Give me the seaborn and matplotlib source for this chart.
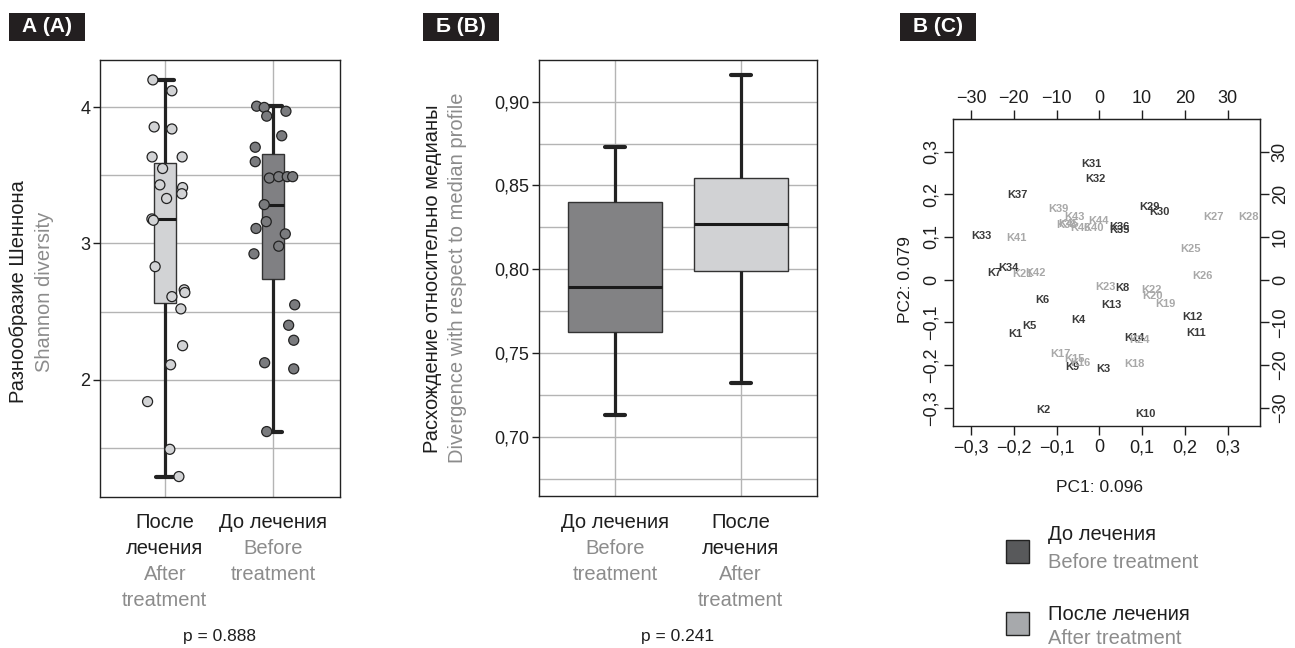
import numpy as np
import pandas as pd
import matplotlib
matplotlib.use("Agg")
import matplotlib.pyplot as plt
from matplotlib.patches import Rectangle
from matplotlib.ticker import MultipleLocator
import seaborn as sns

sns.set_style("white")
plt.rcParams["font.family"] = ["Liberation Sans", "DejaVu Sans"]
plt.rcParams["axes.unicode_minus"] = True

BLACK = "#1e1e1e"
GREY = "#8c8c8c"
LIGHT = "#d2d3d5"
DARK = "#7f8083"
LINE = "#222222"
GRID = "#b4b4b4"

# A: Shannon diversity per sample (jitter = horizontal offset)
after_shannon = [4.20, 4.12, 3.855, 3.84, 3.635, 3.635, 3.55, 3.43, 3.41, 3.365, 3.33, 3.18,
                 3.17, 2.83, 2.66, 2.64, 2.61, 2.52, 2.25, 2.11, 1.84, 1.49, 1.29]
after_jitter = [-0.111, 0.065, -0.099, 0.065, -0.118, 0.160, -0.021, -0.046, 0.164, 0.157, 0.016,
                -0.120, -0.106, -0.090, 0.179, 0.185, 0.065, 0.148, 0.164, 0.053, -0.160, 0.046, 0.130]
before_shannon = [4.007, 3.998, 3.934, 3.97, 3.79, 3.706, 3.60, 3.48, 3.49, 3.49, 3.49, 3.285,
                  3.16, 3.11, 3.07, 2.98, 2.924, 2.55, 2.40, 2.29, 2.125, 2.08, 1.62]
before_jitter = [-0.151, -0.081, -0.058, 0.120, 0.081, -0.164, -0.164, -0.034, 0.053, 0.132, 0.182,
                 -0.081, -0.062, -0.157, 0.114, 0.053, -0.176, 0.201, 0.145, 0.192, -0.077, 0.192, -0.058]
groups_a = ["after", "before"]
p_a = "p = 0.888"

# B: divergence from the median profile, five-number summaries (min, q1, median, q3, max)
before_div = [0.7133, 0.7625, 0.7893, 0.8403, 0.8730]
after_div = [0.7325, 0.7990, 0.8272, 0.8544, 0.9160]
groups_b = ["before", "after"]
p_b = "p = 0.241"

# C: PCA scores
before_names = ["K1", "K2", "K3", "K4", "K5", "K6", "K7", "K8", "K9", "K10", "K11", "K12", "K13", "K14",
                "K29", "K30", "K31", "K32", "K33", "K34", "K35", "K36", "K37"]
before_pc1 = [-0.196, -0.130, 0.010, -0.049, -0.163, -0.133, -0.245, 0.054, -0.063, 0.107, 0.226, 0.217,
              0.027, 0.082, 0.117, 0.140, -0.019, -0.010, -0.276, -0.213, 0.048, 0.046, -0.192]
before_pc2 = [-0.128, -0.305, -0.209, -0.094, -0.108, -0.048, 0.016, -0.020, -0.204, -0.315, -0.125, -0.087,
              -0.059, -0.137, 0.171, 0.159, 0.270, 0.235, 0.102, 0.028, 0.116, 0.124, 0.198]
after_names = ["K15", "K16", "K17", "K18", "K19", "K20", "K21", "K22", "K23", "K24", "K25", "K26", "K27", "K28",
               "K38", "K39", "K40", "K41", "K42", "K43", "K44", "K45", "K46"]
after_pc1 = [-0.058, -0.044, -0.090, 0.083, 0.154, 0.124, -0.180, 0.123, 0.015, 0.093, 0.214, 0.242, 0.266, 0.348,
             -0.076, -0.096, -0.014, -0.193, -0.150, -0.059, -0.002, -0.071, -0.045]
after_pc2 = [-0.186, -0.196, -0.175, -0.198, -0.058, -0.038, 0.013, -0.024, -0.018, -0.141, 0.072, 0.009, 0.146, 0.146,
             0.128, 0.165, 0.121, 0.098, 0.016, 0.146, 0.138, 0.131, 0.120]
pc_ticks = [-0.3, -0.2, -0.1, 0, 0.1, 0.2, 0.3]
pc_labels = ["\u22120,3", "\u22120,2", "\u22120,1", "0", "0,1", "0,2", "0,3"]
load_ticks = [-30, -20, -10, 0, 10, 20, 30]
load_labels = ["\u221230", "\u221220", "\u221210", "0", "10", "20", "30"]

fig = plt.figure(figsize=(12.95, 6.48), dpi=100)
W, H = 1295, 648
ax_a = fig.add_axes([100 / W, 1 - 497 / H, 240 / W, 437 / H])
ax_b = fig.add_axes([539 / W, 1 - 496 / H, 278 / W, 436 / H])
ax_c = fig.add_axes([953 / W, 1 - 426 / H, 307 / W, 306.7 / H])

box_style = dict(
    whis=np.inf, showfliers=False, linecolor="#333333", linewidth=1.0,
    whiskerprops=dict(linewidth=2.3, color=LINE),
    capprops=dict(linewidth=3.0, color=LINE),
    medianprops=dict(linewidth=2.2, color="#1a1a1a"),
)


def narrow_caps(ax, half):
    for c in ax.containers:
        for cap in getattr(c, "caps", []):
            x = cap.get_xdata()
            m = (x[0] + x[1]) / 2
            cap.set_xdata([m - half, m + half])


def style_box_axes(ax):
    ax.set_axisbelow(True)
    ax.set_xticks([0, 1])
    ax.set_xticklabels([])
    ax.grid(True, which="both", axis="y", color=GRID, lw=1)
    ax.grid(True, which="major", axis="x", color=GRID, lw=1)
    ax.tick_params(axis="x", length=0)
    ax.tick_params(axis="y", which="minor", length=0)
    ax.tick_params(axis="y", which="major", left=True, length=5, width=1, pad=2,
                   labelsize=13, colors=BLACK)
    for s in ax.spines.values():
        s.set_color(LINE)
        s.set_linewidth(1)
    ax.set_xlabel("")
    ax.set_ylabel("")


def under_text(ax, x, lines, px_below, size=14.5):
    for i, (txt, col) in enumerate(lines):
        ax.annotate(txt, xy=(x, 0), xycoords=ax.get_xaxis_transform(),
                    xytext=(0, -(px_below + 26 * i) * 0.72), textcoords="offset points",
                    ha="center", va="center", fontsize=size, color=col)


# ---- A ----
df_a = pd.DataFrame({
    "group": ["after"] * len(after_shannon) + ["before"] * len(before_shannon),
    "value": after_shannon + before_shannon,
    "jitter": after_jitter + before_jitter,
})
df_a["xpos"] = df_a["group"].map({g: i for i, g in enumerate(groups_a)}) + df_a["jitter"]
pal = {"after": LIGHT, "before": DARK}

sns.boxplot(data=df_a, x="group", y="value", order=groups_a, hue="group", hue_order=groups_a,
            palette=pal, width=0.2, legend=False, ax=ax_a, **box_style)
narrow_caps(ax_a, 0.085)
sns.scatterplot(data=df_a, x="xpos", y="value", hue="group", palette={"after": LIGHT, "before": "#7a7b7e"},
                s=52, edgecolor=LINE, linewidth=0.9, legend=False, ax=ax_a, zorder=4)
ax_a.set_xlim(-0.60, 1.62)
ax_a.set_ylim(1.14, 4.346)
ax_a.set_yticks([2, 3, 4])
ax_a.set_yticklabels(["2", "3", "4"])
ax_a.yaxis.set_minor_locator(MultipleLocator(0.5))
style_box_axes(ax_a)

under_text(ax_a, 0, [("После", BLACK), ("лечения", BLACK), ("After", GREY), ("treatment", GREY)], 26)
under_text(ax_a, 1, [("До лечения", BLACK), ("Before", GREY), ("treatment", GREY)], 26)
ax_a.annotate(p_a, xy=(0.5, 0), xycoords="axes fraction", xytext=(0, -140 * 0.72),
              textcoords="offset points", ha="center", va="center", fontsize=12.5, color=BLACK)

# ---- B ----
df_b = pd.DataFrame({
    "group": ["before"] * len(before_div) + ["after"] * len(after_div),
    "value": before_div + after_div,
})
sns.boxplot(data=df_b, x="group", y="value", order=groups_b, hue="group", hue_order=groups_b,
            palette={"before": "#818285", "after": "#d1d2d4"}, width=0.75, legend=False,
            ax=ax_b, **box_style)
narrow_caps(ax_b, 0.08)
ax_b.set_xlim(-0.605, 1.607)
ax_b.set_ylim(0.6649, 0.9248)
ax_b.set_yticks([0.70, 0.75, 0.80, 0.85, 0.90])
ax_b.set_yticklabels(["0,70", "0,75", "0,80", "0,85", "0,90"])
ax_b.yaxis.set_minor_locator(MultipleLocator(0.025))
style_box_axes(ax_b)

under_text(ax_b, 0, [("До лечения", BLACK), ("Before", GREY), ("treatment", GREY)], 27)
under_text(ax_b, 1, [("После", BLACK), ("лечения", BLACK), ("After", GREY), ("treatment", GREY)], 27)
ax_b.annotate(p_b, xy=(0.5, 0), xycoords="axes fraction", xytext=(0, -141 * 0.72),
              textcoords="offset points", ha="center", va="center", fontsize=12.5, color=BLACK)

# ---- C ----
for name, x, y in zip(before_names, before_pc1, before_pc2):
    ax_c.text(x, y, name, color="#3a3a3a", fontsize=8, fontweight="bold", ha="center", va="center")
for name, x, y in zip(after_names, after_pc1, after_pc2):
    ax_c.text(x, y, name, color="#a8a8a8", fontsize=8, fontweight="bold", ha="center", va="center")
ax_c.set_xlim(-0.342, 0.3755)
ax_c.set_ylim(-0.3426, 0.3756)
ax_c.set_xticks(pc_ticks)
ax_c.set_xticklabels(pc_labels)
ax_c.set_yticks(pc_ticks)
ax_c.set_yticklabels(pc_labels, rotation=90, va="center")
ax_c.tick_params(bottom=True, left=True, direction="out", length=6.5, width=1, labelsize=13,
                 colors=BLACK, pad=3)
for s in ax_c.spines.values():
    s.set_color(LINE)
    s.set_linewidth(1)

top = ax_c.secondary_xaxis("top", functions=(lambda v: v * 100, lambda v: v / 100))
top.set_xticks(load_ticks)
top.set_xticklabels(load_labels)
top.tick_params(top=True, direction="out", length=6.5, width=1, labelsize=13, colors=BLACK, pad=2)
right = ax_c.secondary_yaxis("right", functions=(lambda v: v * 100, lambda v: v / 100))
right.set_yticks(load_ticks)
right.set_yticklabels(load_labels, rotation=90, va="center")
right.tick_params(right=True, direction="out", length=6.5, width=1, labelsize=13, colors=BLACK, pad=2)

fig.text(1099 / W, 1 - 487 / H, "PC1: 0.096", ha="center", va="center", fontsize=12.5, color=BLACK)
fig.text(905 / W, 1 - 280 / H, "PC2: 0.079", ha="center", va="center", rotation=90,
         fontsize=12.5, color=BLACK)

# axis titles
fig.text(19 / W, 1 - 292 / H, "Разнообразие Шеннона", rotation=90, ha="center", va="center",
         fontsize=14.5, color=BLACK)
fig.text(45 / W, 1 - 292 / H, "Shannon diversity", rotation=90, ha="center", va="center",
         fontsize=14.5, color=GREY)
fig.text(432 / W, 1 - 279 / H, "Расхождение относительно медианы", rotation=90, ha="center",
         va="center", fontsize=14.5, color=BLACK)
fig.text(457 / W, 1 - 278 / H, "Divergence with respect to median profile", rotation=90,
         ha="center", va="center", fontsize=14.5, color=GREY)

# panel tags
for cx, tag in [(47, "А (A)"), (461, "Б (B)"), (938, "В (C)")]:
    fig.add_artist(Rectangle(((cx - 38) / W, 1 - 41 / H), 76 / W, 28 / H,
                             transform=fig.transFigure, color="#231f20", lw=0))
    fig.text(cx / W, 1 - 27 / H, tag, ha="center", va="center", color="white",
             fontsize=15, fontweight="bold")

# legend
for y_sq, col, ru, en, y_ru, y_en in [(563, "#58595b", "До лечения", "Before treatment", 535, 563),
                                     (635, "#a7a9ac", "После лечения", "After treatment", 615, 639)]:
    fig.add_artist(Rectangle((1006 / W, 1 - y_sq / H), 23 / W, 23 / H, transform=fig.transFigure,
                             facecolor=col, edgecolor=LINE, lw=1))
    fig.text(1048 / W, 1 - y_ru / H, ru, ha="left", va="center", fontsize=14.5, color=BLACK)
    fig.text(1048 / W, 1 - y_en / H, en, ha="left", va="center", fontsize=14.5, color=GREY)

fig.savefig("out.png", dpi=100)
